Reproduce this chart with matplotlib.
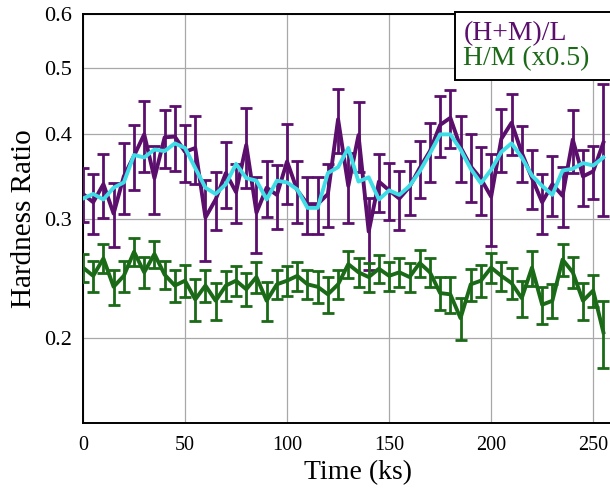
import numpy as np
import matplotlib
matplotlib.use("Agg")
import matplotlib.pyplot as plt
from matplotlib.ticker import FixedLocator, NullLocator, FormatStrFormatter

# time bins (ks)
time_ks = np.arange(0, 256, 5)

# (H+M)/L hardness ratio with errors
hr_hml = [0.326, 0.317, 0.337, 0.305, 0.346, 0.371, 0.399, 0.344, 0.395, 0.396,
          0.376, 0.381, 0.301, 0.320, 0.350, 0.328, 0.385, 0.306, 0.333, 0.325,
          0.364, 0.330, 0.315, 0.315, 0.326, 0.420, 0.335, 0.398, 0.287, 0.340,
          0.330, 0.321, 0.334, 0.356, 0.377, 0.412, 0.422, 0.382, 0.358, 0.343,
          0.323, 0.393, 0.415, 0.375, 0.344, 0.317, 0.337, 0.324, 0.392, 0.346,
          0.352, 0.388]
err_hml = [0.030, 0.032, 0.036, 0.033, 0.041, 0.041, 0.048, 0.039, 0.039, 0.043,
           0.036, 0.044, 0.041, 0.031, 0.039, 0.033, 0.052, 0.039, 0.031, 0.035,
           0.049, 0.035, 0.030, 0.030, 0.035, 0.046, 0.040, 0.047, 0.035, 0.033,
           0.032, 0.032, 0.030, 0.034, 0.038, 0.042, 0.041, 0.042, 0.041, 0.039,
           0.050, 0.042, 0.043, 0.035, 0.034, 0.032, 0.034, 0.033, 0.042, 0.033,
           0.031, 0.085]

# smoothed (H+M)/L
hr_smooth = [0.321, 0.326, 0.320, 0.333, 0.339, 0.372, 0.369, 0.379, 0.377, 0.387,
             0.381, 0.356, 0.333, 0.326, 0.337, 0.361, 0.344, 0.341, 0.320, 0.341,
             0.339, 0.331, 0.311, 0.311, 0.350, 0.357, 0.381, 0.340, 0.345, 0.320,
             0.330, 0.325, 0.335, 0.352, 0.374, 0.399, 0.399, 0.379, 0.355, 0.338,
             0.354, 0.376, 0.387, 0.369, 0.347, 0.335, 0.325, 0.353, 0.355, 0.362,
             0.359, 0.369]

# H/M (x0.5)
hr_hm = [0.254, 0.247, 0.262, 0.238, 0.247, 0.268, 0.250, 0.266, 0.248, 0.239,
         0.243, 0.228, 0.239, 0.227, 0.239, 0.243, 0.236, 0.246, 0.227, 0.240,
         0.243, 0.247, 0.240, 0.238, 0.232, 0.240, 0.257, 0.250, 0.246, 0.253,
         0.247, 0.250, 0.246, 0.258, 0.250, 0.233, 0.232, 0.214, 0.240, 0.243,
         0.254, 0.247, 0.241, 0.229, 0.254, 0.224, 0.227, 0.261, 0.250, 0.227,
         0.235, 0.204]
err_hm = [0.012, 0.013, 0.013, 0.014, 0.013, 0.013, 0.013, 0.012, 0.012, 0.013,
          0.013, 0.016, 0.013, 0.014, 0.012, 0.012, 0.013, 0.013, 0.015, 0.012,
          0.012, 0.012, 0.012, 0.013, 0.014, 0.012, 0.012, 0.012, 0.012, 0.012,
          0.012, 0.012, 0.012, 0.012, 0.012, 0.013, 0.014, 0.015, 0.013, 0.013,
          0.013, 0.012, 0.013, 0.014, 0.015, 0.014, 0.013, 0.014, 0.013, 0.014,
          0.013, 0.023]

y_ticks = [0.2, 0.3, 0.4, 0.5, 0.6]
x_ticks = [0, 50, 100, 150, 200, 250]
labels = ["(H+M)/L", "H/M (x0.5)  "]

purple = "#5b0e6c"
green = "#1b6a17"
cyan = "#3fdde6"

plt.rcParams["font.family"] = ["Liberation Serif", "DejaVu Serif"]

fig = plt.figure(figsize=(6.1, 4.88), dpi=100)
# the plot area runs past the right edge of the figure (cropped like the original)
ax = fig.add_axes([83 / 610, 1 - 423 / 488, 551 / 610, 409 / 488])

ax.errorbar(time_ks, hr_hml, yerr=err_hml, color=purple, lw=2.8, elinewidth=2,
            capsize=4, capthick=2, zorder=3)
ax.plot(time_ks, hr_smooth, color=cyan, lw=2.8, zorder=4)
ax.errorbar(time_ks, hr_hm, yerr=err_hm, color=green, lw=2.8, elinewidth=2,
            capsize=4, capthick=2, zorder=3)

ax.set_yscale("log")
ax.set_ylim(0.15, 0.6)
ax.set_xlim(0, 270)
ax.yaxis.set_major_locator(FixedLocator(y_ticks))
ax.yaxis.set_minor_locator(NullLocator())
ax.yaxis.set_major_formatter(FormatStrFormatter("%.1f"))
ax.set_xticks(x_ticks)
ax.tick_params(length=0)
ax.tick_params(axis="y", labelsize=16, pad=8)
ax.tick_params(axis="x", labelsize=14.5, pad=9)
ax.grid(True, color="#a8a8a8", lw=0.9)
ax.set_axisbelow(True)
for side in ["left", "top", "bottom"]:
    ax.spines[side].set_linewidth(1.4)
ax.spines["right"].set_visible(False)

ax.set_xlabel("Time (ks)", fontsize=20, labelpad=4)
ax.set_ylabel("Hardness Ratio", fontsize=21, labelpad=5)

# text-only legend
h1, = ax.plot([], [], color=purple)
h2, = ax.plot([], [], color=green)
leg = ax.legend([h1, h2], labels, loc="upper left",
                bbox_to_anchor=((455 - 83) / 551, (423 - 12) / 409),
                borderaxespad=0, handlelength=0, handletextpad=0,
                fontsize=20, fancybox=False, framealpha=1, edgecolor="black",
                borderpad=0.3, labelspacing=0.0, labelcolor=[purple, green])
for h in leg.legend_handles:
    h.set_visible(False)
leg.get_frame().set_linewidth(1.4)

fig.savefig("out.png", dpi=100)
